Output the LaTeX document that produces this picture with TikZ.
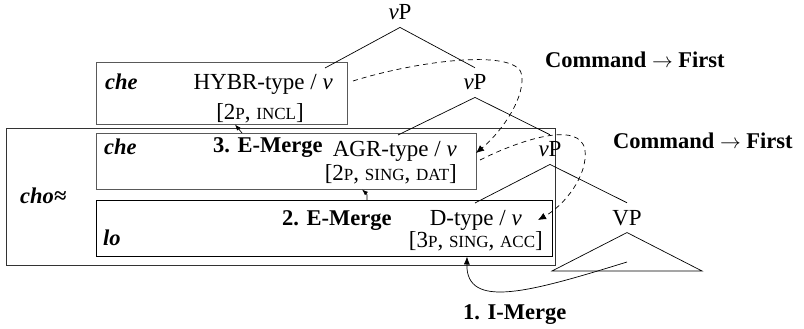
\documentclass[tikz,border=0pt]{standalone}
\usepackage{fontspec}
\setmainfont{Liberation Serif}
\usetikzlibrary{arrows.meta}
% small capitals imitated with smaller upper-case letters
\newcommand\fsc[1]{{\fontsize{17}{18}\selectfont #1}}
\begin{document}
\begin{tikzpicture}[x=1pt,y=-1pt,
  every node/.style={font=\fontsize{23}{26}\selectfont},
  txt/.style={inner sep=0pt},
  lab/.style={inner sep=0pt,font=\fontsize{22.5}{26}\selectfont\bfseries},
  word/.style={inner sep=0pt,font=\fontsize{22.5}{26}\selectfont\bfseries\itshape},
  cat/.style={inner sep=7pt},
  graybox/.style={draw=black!65,line width=0.9pt,inner sep=0pt},
  blackbox/.style={draw=black,line width=0.9pt,inner sep=0pt},
  branch/.style={line width=0.7pt},
  cmd/.style={dashed,dash pattern=on 5pt off 4pt,line width=0.7pt,-{Latex[length=8pt,width=7pt]}},
  merge/.style={line width=0.7pt,-{Latex[length=6pt,width=4.5pt]}}]
\useasboundingbox (0,0) rectangle (804,329);

% boxes
\node[graybox,minimum width=251pt,minimum height=62pt] (hybr) at (221.5,93) {};
\node[draw=black!80,line width=0.9pt,inner sep=0pt,minimum width=549pt,minimum height=137pt] (outer) at (280.5,196.5) {};
\node[graybox,minimum width=380pt,minimum height=56pt] (agr) at (286,161) {};
\node[blackbox,minimum width=456pt,minimum height=56pt] (dbox) at (324,228) {};

% box contents
\node[word,anchor=base west] (che1) at (105,90) {che};
\node[txt,anchor=base east] (hybrt) at (333,90) {HYBR-type / \textit{ν}};
\node[txt,anchor=base] (hybrf) at (260,120) {[2\fsc{P}, \fsc{INCL}]};

\node[word,anchor=base west] (che2) at (104,154) {che};
\node[lab,anchor=base west] (em3) at (213,152) {3. E-Merge};
\node[txt,anchor=base east] (agrt) at (457,156) {AGR-type / \textit{ν}};
\node[txt,anchor=base east] (agrf) at (457,180) {[2\fsc{P}, \fsc{SING}, \fsc{DAT}]};

\node[word,anchor=base west] (cho) at (20,203) {cho≈};
\node[word,anchor=base west] (lo) at (103,245) {lo};
\node[lab,anchor=base west] (em2) at (282,225) {2. E-Merge};
\node[txt,anchor=base east] (dt) at (522,225) {D-type / \textit{ν}};
\node[txt,anchor=base east] (df) at (543,247) {[3\fsc{P}, \fsc{SING}, \fsc{ACC}]};

% tree
\node[cat,anchor=base] (vp1) at (400,20) {\textit{ν}P};
\node[cat,anchor=base] (vp2) at (475,90) {\textit{ν}P};
\node[cat,anchor=base] (vp3) at (550,157) {\textit{ν}P};
\node[cat,anchor=base] (vp) at (627,225) {VP};

\coordinate (f1) at (325,68);
\coordinate (f2) at (398,135);
\coordinate (f3) at (475,203);
\coordinate (tl) at (552,271);
\coordinate (tr) at (702,271);

\draw[branch] (vp1.south) -- (f1);
\draw[branch] (vp1.south) -- (vp2.north);
\draw[branch] (vp2.south) -- (f2);
\draw[branch] (vp2.south) -- (vp3.north);
\draw[branch] (vp3.south) -- (f3);
\draw[branch] (vp3.south) -- (vp.north);
\draw[branch] (vp.south) -- (tl) -- (tr) -- cycle;

% labels on the right
\node[lab,anchor=base west] (cmd1) at (545,68) {Command $\rightarrow$ First};
\node[lab,anchor=base west] (cmd2) at (613,148) {Command $\rightarrow$ First};
\node[lab,anchor=base west] (im1) at (463,319) {1. I-Merge};

% command arrows
\coordinate (c1s) at (353,81);
\coordinate (c1m) at (522,76);
\coordinate (c1e) at (476,153);
\draw[cmd] (c1s) .. controls (420,60) and (520,48) .. (c1m)
  .. controls (524,102) and (498,135) .. (c1e);
\coordinate (c2s) at (480,160);
\coordinate (c2m) at (585,150);
\coordinate (c2e) at (538,220);
\draw[cmd] (c2s) .. controls (520,140) and (580,120) .. (c2m)
  .. controls (588,175) and (565,205) .. (c2e);

% merge arrows
\coordinate (m3s) at (242,133);
\coordinate (m3e) at (235,124.5);
\draw[merge] (m3s) -- (m3e);
\coordinate (m2s) at (367,200);
\coordinate (m2e) at (362,189.5);
\draw[merge] (m2s) .. controls (367,194) .. (m2e);
\coordinate (m1s) at (627,262);
\coordinate (m1e) at (467,256.5);
\draw[line width=0.7pt,-{Latex[length=8pt,width=6pt]}] (m1s) .. controls (530,292) and (466,310) .. (m1e);
\end{tikzpicture}
\end{document}
